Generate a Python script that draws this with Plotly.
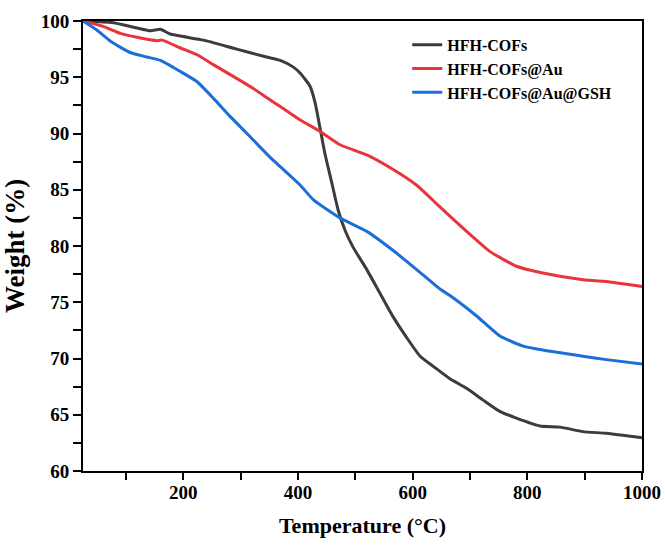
import plotly.graph_objects as go

# HFH-COFs
temp_cofs = [25, 78, 142, 160, 177, 235, 293, 345, 369, 392, 404, 421, 430, 438, 447, 459, 470, 482, 496,
             520, 543, 566, 589, 613, 636, 665, 694, 723, 752, 781, 822, 857, 897, 938, 1000]
wt_cofs = [100, 99.85, 99.14, 99.26, 98.84, 98.3, 97.5, 96.8, 96.5, 95.9, 95.35, 94.2, 92.7, 90.6, 88.2, 85.6, 83.2, 81.4, 79.9,
           77.9, 75.8, 73.7, 71.9, 70.2, 69.3, 68.2, 67.35, 66.3, 65.3, 64.7, 64.0, 63.9, 63.5, 63.35, 62.95]

# HFH-COFs@Au
temp_au = [25, 61, 90, 119, 154, 163, 195, 224, 253, 293, 322, 351, 369, 404, 438, 473, 520, 566, 607,
           647, 694, 735, 781, 827, 897, 944, 1000]
wt_au = [100, 99.5, 98.9, 98.55, 98.25, 98.3, 97.6, 97.0, 96.1, 94.9, 94.0, 93.0, 92.4, 91.2, 90.2, 89.0, 88.1, 86.8, 85.4,
         83.5, 81.3, 79.5, 78.2, 77.6, 77.0, 76.8, 76.4]

# HFH-COFs@Au@GSH
temp_gsh = [25, 49, 73, 107, 136, 160, 195, 224, 253, 282, 311, 351, 369, 404, 427, 473, 520, 566, 607,
            647, 665, 711, 752, 793, 827, 897, 938, 1000]
wt_gsh = [100, 99.2, 98.2, 97.2, 96.8, 96.5, 95.5, 94.6, 93.1, 91.5, 90.0, 87.9, 87.05, 85.4, 84.1, 82.5, 81.3, 79.6, 77.9,
          76.2, 75.6, 73.8, 72.0, 71.1, 70.75, 70.2, 69.9, 69.5]

names = ["HFH-COFs", "HFH-COFs@Au", "HFH-COFs@Au@GSH"]
colors = ["#3c3c3c", "#e8353b", "#1c6fd8"]

x_ticks = [200, 400, 600, 800, 1000]
x_minor = [100, 300, 500, 700, 900]
y_ticks = [60, 65, 70, 75, 80, 85, 90, 95, 100]
y_minor = [62.5, 67.5, 72.5, 77.5, 82.5, 87.5, 92.5, 97.5]

font_family = "Liberation Serif"


def tick_arrays(major, minor):
    vals = sorted(major + minor)
    text = [f"<b>{v}</b>" if v in major else "" for v in vals]
    return vals, text


xv, xt = tick_arrays(x_ticks, x_minor)
yv, yt = tick_arrays(y_ticks, y_minor)

fig = go.Figure()
for xs, ys, n, c in zip([temp_cofs, temp_au, temp_gsh], [wt_cofs, wt_au, wt_gsh], names, colors):
    fig.add_trace(go.Scatter(x=xs, y=ys, mode="lines", name=n,
                             line=dict(color=c, width=3, shape="spline", smoothing=0.5)))

fig.update_layout(
    template="simple_white",
    width=665, height=545,
    margin=dict(l=83, r=23, t=21, b=74),
    plot_bgcolor="white", paper_bgcolor="white",
    font=dict(family=font_family, color="black"),
    showlegend=True,
    legend=dict(x=0.58, y=0.985, xanchor="left", yanchor="top",
                font=dict(family=font_family, size=16, color="black", weight="bold"),
                bgcolor="rgba(0,0,0,0)", tracegroupgap=0),
)
fig.update_xaxes(
    range=[25, 1000], tickmode="array", tickvals=xv, ticktext=xt,
    ticks="outside", ticklen=7, tickwidth=2, tickcolor="#000000", automargin=False,
    ticklabelstandoff=-4,
    showline=True, linecolor="black", linewidth=2, mirror=True, showgrid=False, zeroline=False,
    tickfont=dict(size=19, family=font_family, color="black"),
    title=dict(text="<b>Temperature (°C)</b>", font=dict(size=22, family=font_family, color="black"), standoff=16),
)
fig.update_yaxes(
    range=[60, 100], tickmode="array", tickvals=yv, ticktext=yt,
    ticks="outside", ticklen=8, tickwidth=2, tickcolor="#000000", automargin=False,
    showline=True, linecolor="black", linewidth=2, mirror=True, showgrid=False, zeroline=False,
    tickfont=dict(size=19, family=font_family, color="black"),
    title=dict(text="<b>Weight (%)</b>", font=dict(size=27, family=font_family, color="black"), standoff=8),
)

fig.write_html("out.html", config={"displayModeBar": False},
               post_script="document.body.style.margin='0';document.body.style.padding='0';")
